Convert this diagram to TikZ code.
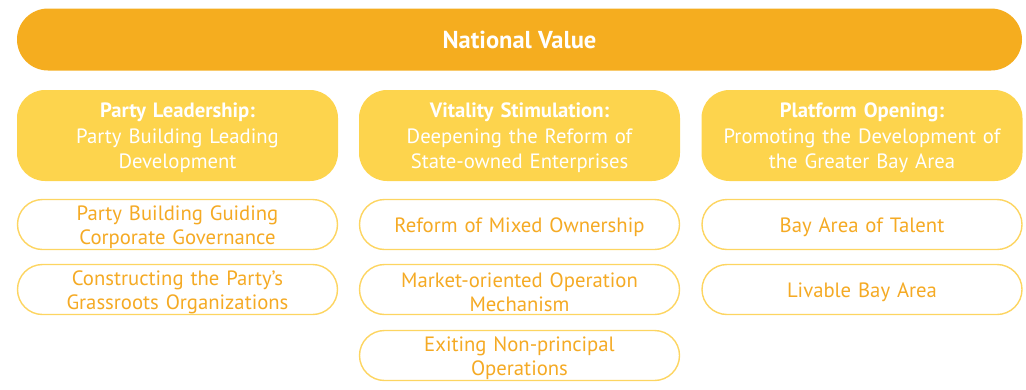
\documentclass[tikz,border=0pt]{standalone}
\usepackage{fontspec}
\setmainfont{PT Sans}
\definecolor{darkgold}{HTML}{F5AD1F}
\definecolor{lightgold}{HTML}{FDD44D}
\definecolor{pillline}{HTML}{FDD561}
\definecolor{pilltext}{HTML}{F5AA24}
\tikzset{
  topbar/.style={fill=darkgold, draw=none, rounded corners=31pt, minimum width=1005pt, minimum height=62pt, text=white, font=\fontsize{24.5}{28}\selectfont\bfseries},
  headbox/.style={fill=lightgold, draw=none, rounded corners=28pt, minimum width=321pt, minimum height=91pt},
  headtext/.style={text=white, align=center, text width=315pt, font=\fontsize{20.7}{25.5}\selectfont, yshift=-2.5pt},
  pill/.style={fill=white, draw=pillline, line width=1.4pt, rounded corners=25pt, minimum width=320pt, minimum height=50pt},
  pilltxt/.style={text=pilltext, align=center, text width=315pt, font=\fontsize{20.7}{24}\selectfont, yshift=-3pt},
}
\begin{document}
\begin{tikzpicture}[x=1pt,y=-1pt]
\useasboundingbox (0,0) rectangle (1026,389);
\node[topbar] (top) at (519.5,39.5) {National Value};
\node[headbox] (h1) at (177.5,135.5) {};
\node[headtext] (h1t) at (h1) {\textbf{Party Leadership:}\\Party Building Leading\\Development};
\node[headbox] (h2) at (519.5,135.5) {};
\node[headtext] (h2t) at (h2) {\textbf{Vitality Stimulation:}\\Deepening the Reform of\\State-owned Enterprises};
\node[headbox] (h3) at (862,135.5) {};
\node[headtext] (h3t) at (h3) {\textbf{Platform Opening:}\\Promoting the Development of\\the Greater Bay Area};
\node[pill] (a1) at (177.5,224.5) {};
\node[pilltxt] (a1t) at (a1) {Party Building Guiding\\Corporate Governance};
\node[pill] (a2) at (177.5,289.5) {};
\node[pilltxt] (a2t) at (a2) {Constructing the Party’s\\Grassroots Organizations};
\node[pill] (b1) at (519.5,224.5) {};
\node[pilltxt] (b1t) at (b1) {Reform of Mixed Ownership};
\node[pill] (b2) at (519.5,289.5) {};
\node[pilltxt] (b2t) at (b2) {Market-oriented Operation\\Mechanism};
\node[pill] (b3) at (519.5,355.5) {};
\node[pilltxt] (b3t) at (b3) {Exiting Non-principal\\Operations};
\node[pill] (c1) at (862,224.5) {};
\node[pilltxt] (c1t) at (c1) {Bay Area of Talent};
\node[pill] (c2) at (862,289.5) {};
\node[pilltxt] (c2t) at (c2) {Livable Bay Area};
\end{tikzpicture}
\end{document}
